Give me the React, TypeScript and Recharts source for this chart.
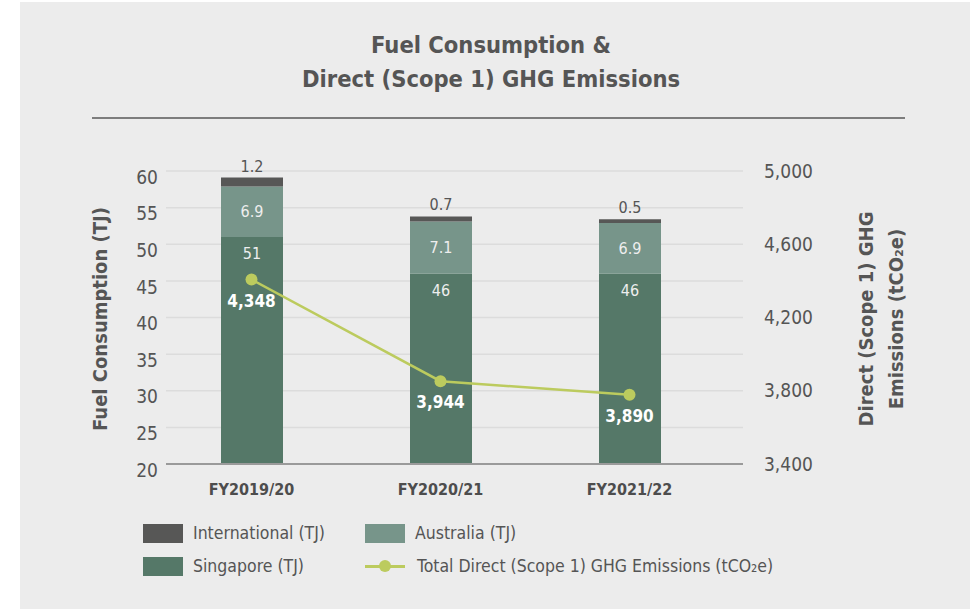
import React from 'react';
import { ComposedChart, Bar, Line, XAxis, YAxis, CartesianGrid, LabelList } from 'recharts';

const categories = ['FY2019/20', 'FY2020/21', 'FY2021/22'];
const singapore = [51, 46, 46];
const australia = [6.9, 7.1, 6.9];
const international = [1.2, 0.7, 0.5];
const emissions = [4348, 3944, 3890];
const leftTicks = [20, 25, 30, 35, 40, 45, 50, 55, 60];
const rightTicks = [3400, 3800, 4200, 4600, 5000];

const data = categories.map((c, i) => ({
  name: c,
  singapore: singapore[i],
  australia: australia[i],
  international: international[i],
  emissions: emissions[i],
}));

const FONT = '"DejaVu Sans Condensed", "Liberation Sans Narrow", "DejaVu Sans", sans-serif';
const C_INT = '#575756';
const C_AUS = '#77958a';
const C_SG = '#557868';
const C_LINE = '#bccb5e';
const TXT = '#555555';

const fmt = (v: number) => v.toLocaleString('en-US');

export default function App() {
  return (
    <div style={{ position: 'absolute', left: 0, top: 0, width: 973, height: 612, background: '#ffffff', fontFamily: FONT, overflow: 'hidden' }}>
      <div style={{ position: 'absolute', left: 20, top: 2, width: 950, height: 607, background: '#ececec' }} />
      <div style={{ position: 'absolute', left: 0, top: 28, width: 982, textAlign: 'center', color: TXT, fontWeight: 'bold', fontSize: 23.5, lineHeight: '34px' }}>
        Fuel Consumption &amp;<br />Direct (Scope 1) GHG Emissions
      </div>
      <div style={{ position: 'absolute', left: 92, top: 117, width: 813, height: 2, background: '#7d7d7d' }} />
      <div style={{ position: 'absolute', left: 0, top: 0 }}>
        <ComposedChart width={973} height={612} data={data} margin={{ top: 171, right: 150, bottom: 118, left: 106 }} style={{ fontFamily: FONT }}>
          <CartesianGrid yAxisId="left" vertical={false} stroke="#dcdcdc" strokeWidth={1.5} />
          <XAxis dataKey="name" padding={{ left: -9, right: 19 }} axisLine={{ stroke: '#9a9a9a', strokeWidth: 2 }} tickLine={false} height={30} tickMargin={14} tick={{ fill: '#4d4d4d', fontSize: 16, fontWeight: 'bold', fontFamily: FONT }} />
          <YAxis yAxisId="left" type="number" width={60} domain={[20, 60]} allowDataOverflow ticks={leftTicks} interval={0} axisLine={false} tickLine={false} tickMargin={2} tick={{ fill: TXT, fontSize: 19, fontFamily: FONT, dy: 6 }} />
          <YAxis yAxisId="right" type="number" orientation="right" width={80} domain={[3400, 5000]} allowDataOverflow ticks={rightTicks} interval={0} axisLine={false} tickLine={false} tickMargin={15} tickFormatter={fmt} tick={{ fill: TXT, fontSize: 19, fontFamily: FONT, textAnchor: 'start' }} />
          <YAxis yAxisId="line" type="number" hide domain={[3615, 4779]} allowDataOverflow />
          <Bar yAxisId="left" dataKey="singapore" stackId="a" fill={C_SG} barSize={62} isAnimationActive={false}>
            <LabelList dataKey="singapore" position="insideTop" offset={11} fill="#eeeeee" fontSize={16} fontFamily={FONT} />
          </Bar>
          <Bar yAxisId="left" dataKey="australia" stackId="a" fill={C_AUS} barSize={62} isAnimationActive={false}>
            <LabelList dataKey="australia" position="center" fill="#eeeeee" fontSize={16} fontFamily={FONT} />
          </Bar>
          <Bar yAxisId="left" dataKey="international" stackId="a" fill={C_INT} barSize={62} isAnimationActive={false}>
            <LabelList dataKey="international" position="top" offset={6} fill={TXT} fontSize={16} fontFamily={FONT} />
          </Bar>
          <Line yAxisId="line" dataKey="emissions" stroke={C_LINE} strokeWidth={2.5} dot={{ r: 6, fill: C_LINE, stroke: C_LINE, strokeWidth: 0 }} isAnimationActive={false}>
            <LabelList dataKey="emissions" position="bottom" offset={15} formatter={fmt} fill="#ffffff" fontWeight="bold" fontSize={17} fontFamily={FONT} />
          </Line>
        </ComposedChart>
      </div>
      <div style={{ position: 'absolute', left: 100, top: 319, transform: 'translate(-50%, -50%) rotate(-90deg)', whiteSpace: 'nowrap', color: TXT, fontWeight: 'bold', fontSize: 20 }}>
        Fuel Consumption (TJ)
      </div>
      <div style={{ position: 'absolute', left: 881, top: 319, transform: 'translate(-50%, -50%) rotate(-90deg)', whiteSpace: 'nowrap', color: TXT, fontWeight: 'bold', fontSize: 20, lineHeight: '30px', textAlign: 'center' }}>
        Direct (Scope 1) GHG<br />Emissions (tCO₂e)
      </div>
      <div style={{ position: 'absolute', left: 0, top: 0, fontSize: 17.5, color: TXT }}>
        <div style={{ position: 'absolute', left: 143, top: 524, width: 40, height: 19, background: C_INT }} />
        <div style={{ position: 'absolute', left: 193, top: 522, whiteSpace: 'nowrap', lineHeight: '22px' }}>International (TJ)</div>
        <div style={{ position: 'absolute', left: 365, top: 524, width: 40, height: 19, background: C_AUS }} />
        <div style={{ position: 'absolute', left: 415, top: 522, whiteSpace: 'nowrap', lineHeight: '22px' }}>Australia (TJ)</div>
        <div style={{ position: 'absolute', left: 143, top: 557, width: 40, height: 19, background: C_SG }} />
        <div style={{ position: 'absolute', left: 193, top: 555, whiteSpace: 'nowrap', lineHeight: '22px' }}>Singapore (TJ)</div>
        <div style={{ position: 'absolute', left: 365, top: 565, width: 40, height: 2.5, background: C_LINE }} />
        <div style={{ position: 'absolute', left: 379, top: 560, width: 12, height: 12, borderRadius: 6, background: C_LINE }} />
        <div style={{ position: 'absolute', left: 417, top: 555, whiteSpace: 'nowrap', lineHeight: '22px' }}>Total Direct (Scope 1) GHG Emissions (tCO₂e)</div>
      </div>
    </div>
  );
}
